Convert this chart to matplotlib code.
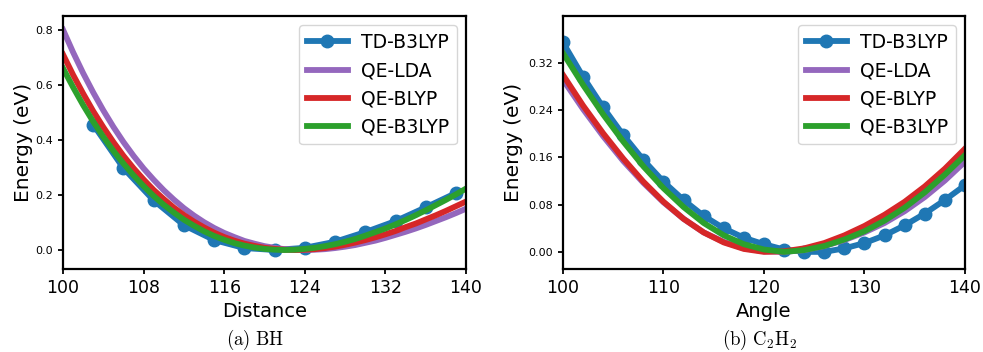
import matplotlib
matplotlib.use("Agg")
import matplotlib.pyplot as plt

plt.rcParams['mathtext.fontset'] = 'cm'

# (a) BH -- energy vs distance
bh_td_x = [103, 106, 109, 112, 115, 118, 121, 124, 127, 130, 133, 136, 139]
bh_td_y = [0.455, 0.297, 0.180, 0.090, 0.036, 0.007, 0.000, 0.008, 0.030, 0.065, 0.105, 0.155, 0.207]

bh_x = list(range(100, 141))
bh_lda = [0.800, 0.718, 0.642, 0.572, 0.507, 0.447, 0.392, 0.342, 0.296, 0.255,
          0.217, 0.183, 0.152, 0.125, 0.101, 0.080, 0.062, 0.047, 0.033, 0.023,
          0.014, 0.008, 0.003, 0.001, 0.000, 0.001, 0.003, 0.007, 0.012, 0.018,
          0.026, 0.034, 0.044, 0.055, 0.066, 0.078, 0.091, 0.105, 0.119, 0.134, 0.150]
bh_blyp = [0.710, 0.636, 0.568, 0.504, 0.446, 0.392, 0.342, 0.297, 0.256, 0.218,
           0.185, 0.154, 0.127, 0.103, 0.082, 0.063, 0.047, 0.034, 0.023, 0.015,
           0.008, 0.004, 0.001, 0.000, 0.001, 0.003, 0.007, 0.012, 0.019, 0.027,
           0.036, 0.046, 0.057, 0.069, 0.083, 0.096, 0.111, 0.126, 0.142, 0.159, 0.176]
bh_b3lyp = [0.660, 0.591, 0.526, 0.466, 0.411, 0.360, 0.314, 0.271, 0.232, 0.196,
            0.164, 0.136, 0.110, 0.088, 0.068, 0.051, 0.037, 0.025, 0.016, 0.009,
            0.004, 0.001, 0.000, 0.001, 0.004, 0.008, 0.014, 0.021, 0.030, 0.040,
            0.052, 0.065, 0.078, 0.093, 0.109, 0.126, 0.144, 0.163, 0.182, 0.202, 0.223]

# (b) C2H2 -- energy vs angle
c2_x = [100, 102, 104, 106, 108, 110, 112, 114, 116, 118, 120,
        122, 124, 126, 128, 130, 132, 134, 136, 138, 140]
c2_td = [0.355, 0.297, 0.245, 0.198, 0.156, 0.119, 0.088, 0.061, 0.040, 0.024, 0.013,
         0.004, 0.000, 0.000, 0.006, 0.015, 0.028, 0.045, 0.065, 0.088, 0.113]
c2_lda = [0.292, 0.242, 0.196, 0.154, 0.117, 0.084, 0.056, 0.033, 0.017, 0.006, 0.001,
          0.000, 0.003, 0.010, 0.020, 0.033, 0.049, 0.069, 0.093, 0.121, 0.153]
c2_blyp = [0.300, 0.248, 0.201, 0.158, 0.119, 0.085, 0.056, 0.033, 0.016, 0.005, 0.000,
           0.001, 0.006, 0.015, 0.028, 0.044, 0.063, 0.085, 0.111, 0.141, 0.175]
c2_b3lyp = [0.337, 0.283, 0.233, 0.187, 0.145, 0.108, 0.076, 0.049, 0.028, 0.013, 0.004,
            0.000, 0.003, 0.010, 0.021, 0.035, 0.053, 0.075, 0.101, 0.131, 0.164]

fig = plt.figure(figsize=(9.83, 3.52), dpi=100)
ax1 = fig.add_axes([0.0641, 0.2358, 0.410, 0.719])
ax2 = fig.add_axes([0.5727, 0.2358, 0.409, 0.719])

lw = 4.2


def draw(ax, tdx, tdy, x, lda, blyp, b3lyp):
    ax.plot(tdx, tdy, color='#1f77b4', lw=lw, marker='o', ms=9, label='TD-B3LYP')
    ax.plot(x, lda, color='#9467bd', lw=lw, label='QE-LDA')
    ax.plot(x, blyp, color='#d62728', lw=lw, label='QE-BLYP')
    ax.plot(x, b3lyp, color='#2ca02c', lw=lw, label='QE-B3LYP')
    ax.set_xlim(100, 140)
    ax.set_ylabel('Energy (eV)', fontsize=14.5)
    ax.tick_params(axis='x', labelsize=12.5, width=1.3)
    ax.tick_params(axis='y', labelsize=8, width=1.3)
    for s in ax.spines.values():
        s.set_linewidth(1.6)
    ax.legend(loc='upper right', fontsize=13.5, handlelength=2.2, handletextpad=0.7)


draw(ax1, bh_td_x, bh_td_y, bh_x, bh_lda, bh_blyp, bh_b3lyp)
ax1.set_ylim(-0.069, 0.85)
ax1.set_xticks([100, 108, 116, 124, 132, 140])
ax1.set_yticks([0.0, 0.2, 0.4, 0.6, 0.8])
ax1.set_xlabel('Distance', fontsize=14)
ax1.yaxis.set_label_coords(-0.074, 0.5)

draw(ax2, c2_x, c2_td, c2_x, c2_lda, c2_blyp, c2_b3lyp)
ax2.set_ylim(-0.029, 0.40)
ax2.set_xticks([100, 110, 120, 130, 140])
ax2.set_yticks([0.00, 0.08, 0.16, 0.24, 0.32])
ax2.set_yticklabels(['0.00', '0.08', '0.16', '0.24', '0.32'])
ax2.set_xlabel('Angle', fontsize=14)
ax2.yaxis.set_label_coords(-0.0995, 0.5)

fig.text(0.259, 0.034, r'$\mathrm{(a)\ BH}$', ha='center', va='center', fontsize=13.5)
fig.text(0.7726, 0.034, r'$\mathrm{(b)\ C_2H_2}$', ha='center', va='center', fontsize=13.5)

fig.savefig('out.png', dpi=100)
